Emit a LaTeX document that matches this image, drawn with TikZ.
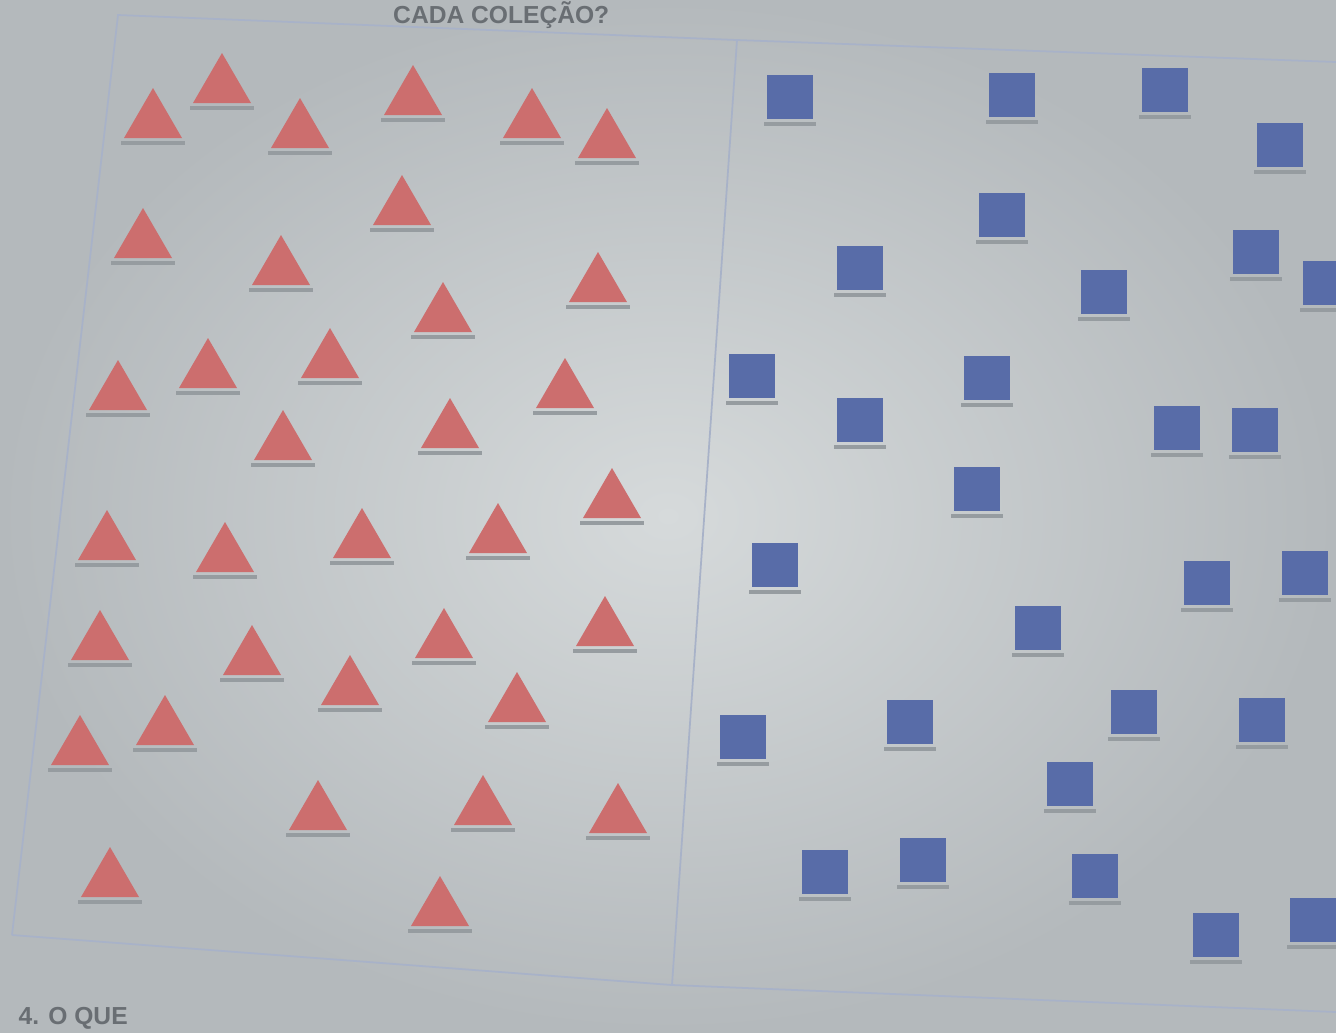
\documentclass[tikz,border=0pt]{standalone}
\usepackage{fontspec}
\setmainfont{Liberation Sans}
\definecolor{pagein}{RGB}{214,218,219}
\definecolor{pageout}{RGB}{180,185,188}
\definecolor{framecol}{RGB}{168,178,200}
\definecolor{tricol}{RGB}{204,110,110}
\definecolor{sqcol}{RGB}{88,108,168}
\definecolor{shadowcol}{RGB}{150,156,160}
\definecolor{txtcol}{RGB}{105,110,115}
\begin{document}
\begin{tikzpicture}[x=0.01cm,y=-0.01cm,
  framestyle/.style={draw=framecol,line width=0.5pt},
  shadowline/.style={draw=shadowcol,line width=0.9pt},
  tri/.pic={\fill[tricol] (-29,0) -- (0,-50) -- (29,0) -- cycle;
            \draw[shadowline] (-32,5) -- (32,5);},
  sq/.pic={\fill[sqcol] (-23,-44) rectangle (23,0);
           \draw[shadowline] (-26,5) -- (26,5);},
  capt/.style={font=\bfseries\fontsize{7pt}{9pt}\selectfont,text=txtcol,inner sep=0pt}]
\useasboundingbox (0,0) rectangle (1336,1032);
\shade[inner color=pagein,outer color=pageout] (0,0) rectangle (1336,1032);
\node[capt,anchor=north east] (title) at (610,1) {CADA COLEÇÃO?};
\node[capt,anchor=south west] (next) at (18,1030) {4. O QUE};
% frame
\coordinate (tl) at (118,15);
\coordinate (tm) at (737,40);
\coordinate (tr) at (1336,62);
\coordinate (bl) at (12,935);
\coordinate (bm) at (672,985);
\coordinate (br) at (1336,1012);
\draw[framestyle] (bl) -- (tl) -- (tm) -- (tr);
\draw[framestyle] (bl) -- (bm) -- (br);
\draw[framestyle] (tm) -- (bm);
% triangles (base centre)
\foreach \x/\y [count=\i] in {153/138,222/103,300/148,413/115,532/138,607/158,
  402/225,143/258,281/285,598/302,443/332,118/410,208/388,330/378,565/408,
  283/460,450/448,612/518,107/560,225/572,362/558,498/553,100/660,252/675,
  444/658,605/646,350/705,517/722,80/765,165/745,318/830,483/825,618/833,
  110/897,440/926}
  \pic (t\i) at (\x,\y) {tri};
% squares (bottom centre)
\begin{scope}
\clip (0,0) rectangle (1336,1032);
\foreach \x/\y [count=\i] in {790/119,1012/117,1165/112,1280/167,1002/237,
  860/290,1104/314,1256/274,1326/305,752/398,987/400,860/442,1177/450,
  1255/452,977/511,775/587,1207/605,1305/595,1038/650,743/759,910/744,
  1134/734,1262/742,1070/806,825/894,923/882,1095/898,1216/957,1313/942}
  \pic (s\i) at (\x,\y) {sq};
\end{scope}
\end{tikzpicture}
\end{document}
